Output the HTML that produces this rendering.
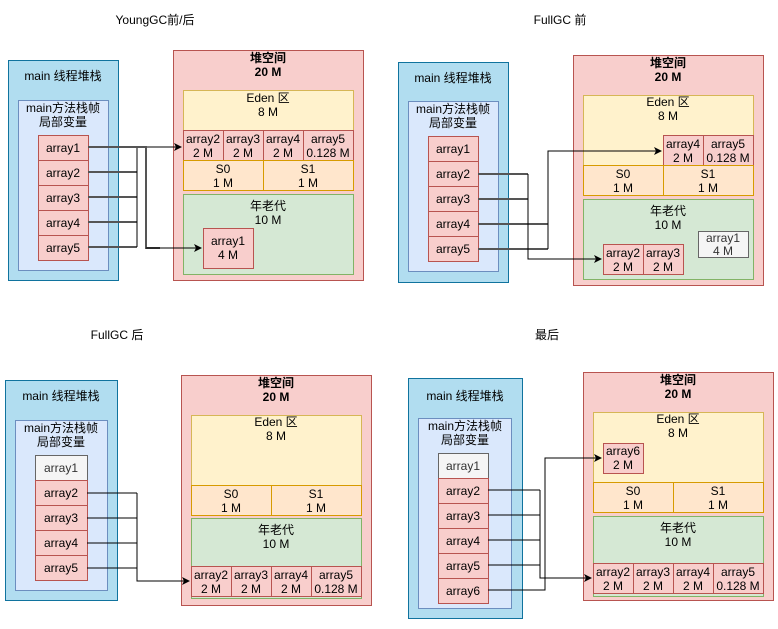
<!DOCTYPE html>
<html><head><meta charset="utf-8"><style>
body{margin:0;background:#fff}
svg text{font-family:"Liberation Sans","Noto Sans CJK SC",sans-serif;font-size:12px;text-anchor:middle;fill:#000}
.so{fill:#b1ddf0;stroke:#10739e}.si{fill:#dae8fc;stroke:#6c8ebf}
.c{fill:#f8cecc;stroke:#b85450}.h{fill:#f8cecc;stroke:#b85450}
.e{fill:#fff2cc;stroke:#d6b656}.s{fill:#ffe6cc;stroke:#d79b00}.o{fill:#d5e8d4;stroke:#82b366}
.g{fill:#f5f5f5;stroke:#666}.gt{fill:#333}
.ln{fill:none;stroke:#555;stroke-width:2}.lb{fill:none;stroke:#000;stroke-width:1}
.b{font-weight:bold}
</style></head><body>
<svg width="778" height="624" xmlns="http://www.w3.org/2000/svg">
<defs><marker id="a" markerWidth="8" markerHeight="8" refX="7" refY="4" orient="auto" markerUnits="userSpaceOnUse"><path d="M0,0 L8,4 L0,8 L2,4z" fill="#000"/></marker></defs>

<text x="155" y="24">YoungGC前/后</text>
<text x="560" y="24">FullGC 前</text>
<text x="117" y="339">FullGC 后</text>
<text x="547" y="339">最后</text>

<!-- Panel 1 -->
<rect class="so" x="8.5" y="60.5" width="110" height="220"/>
<text x="63" y="80">main 线程堆栈</text>
<rect class="si" x="18.5" y="100.5" width="90" height="170"/>
<text x="63" y="112">main方法栈帧</text><text x="63" y="126">局部变量</text>
<rect class="c" x="38.5" y="135.5" width="50" height="25"/><text x="63" y="152">array1</text>
<rect class="c" x="38.5" y="160.5" width="50" height="25"/><text x="63" y="177">array2</text>
<rect class="c" x="38.5" y="185.5" width="50" height="25"/><text x="63" y="202">array3</text>
<rect class="c" x="38.5" y="210.5" width="50" height="25"/><text x="63" y="227">array4</text>
<rect class="c" x="38.5" y="235.5" width="50" height="25"/><text x="63" y="252">array5</text>
<rect class="h" x="173.5" y="50.5" width="190" height="230"/>
<text x="268" y="62" class="b">堆空间</text><text x="268" y="76" class="b">20 M</text>
<rect class="e" x="183.5" y="90.5" width="170" height="70"/>
<text x="268" y="102">Eden 区</text><text x="268" y="116">8 M</text>
<rect class="c" x="183.5" y="130.5" width="40" height="30"/><text x="203" y="143">array2</text><text x="203" y="157">2 M</text>
<rect class="c" x="223.5" y="130.5" width="40" height="30"/><text x="243" y="143">array3</text><text x="243" y="157">2 M</text>
<rect class="c" x="263.5" y="130.5" width="40" height="30"/><text x="283" y="143">array4</text><text x="283" y="157">2 M</text>
<rect class="c" x="303.5" y="130.5" width="50" height="30"/><text x="328" y="143">array5</text><text x="328" y="157">0.128 M</text>
<rect class="s" x="183.5" y="160.5" width="80" height="30"/><text x="223" y="173">S0</text><text x="223" y="187">1 M</text>
<rect class="s" x="263.5" y="160.5" width="90" height="30"/><text x="308" y="173">S1</text><text x="308" y="187">1 M</text>
<rect class="o" x="183.5" y="194.5" width="170" height="80"/>
<text x="268" y="210">年老代</text><text x="268" y="224">10 M</text>
<rect class="c" x="203.5" y="228.5" width="50" height="40"/><text x="228" y="245">array1</text><text x="228" y="259">4 M</text>
<path class="ln" d="M88,172H137M88,197H137M88,222H137M88,247H137"/>
<path class="lb" d="M137,247V147H181" marker-end="url(#a)"/>
<path class="ln" d="M88,147H146V248H160"/>
<path class="lb" d="M146,248H201" marker-end="url(#a)"/>

<!-- Panel 2 -->
<rect class="so" x="398.5" y="62.5" width="110" height="220"/>
<text x="453" y="82">main 线程堆栈</text>
<rect class="si" x="408.5" y="101.5" width="90" height="170"/>
<text x="453" y="113">main方法栈帧</text><text x="453" y="127">局部变量</text>
<rect class="c" x="428.5" y="136.5" width="50" height="25"/><text x="453" y="153">array1</text>
<rect class="c" x="428.5" y="161.5" width="50" height="25"/><text x="453" y="178">array2</text>
<rect class="c" x="428.5" y="186.5" width="50" height="25"/><text x="453" y="203">array3</text>
<rect class="c" x="428.5" y="211.5" width="50" height="25"/><text x="453" y="228">array4</text>
<rect class="c" x="428.5" y="236.5" width="50" height="25"/><text x="453" y="253">array5</text>
<rect class="h" x="573.5" y="55.5" width="190" height="230"/>
<text x="668" y="67" class="b">堆空间</text><text x="668" y="81" class="b">20 M</text>
<rect class="e" x="583.5" y="95.5" width="170" height="70"/>
<text x="668" y="106">Eden 区</text><text x="668" y="120">8 M</text>
<rect class="c" x="663.5" y="135.5" width="40" height="30"/><text x="683" y="148">array4</text><text x="683" y="162">2 M</text>
<rect class="c" x="703.5" y="135.5" width="50" height="30"/><text x="728" y="148">array5</text><text x="728" y="162">0.128 M</text>
<rect class="s" x="583.5" y="165.5" width="80" height="30"/><text x="623" y="178">S0</text><text x="623" y="192">1 M</text>
<rect class="s" x="663.5" y="165.5" width="90" height="30"/><text x="708" y="178">S1</text><text x="708" y="192">1 M</text>
<rect class="o" x="583.5" y="199.5" width="170" height="80"/>
<text x="668" y="215">年老代</text><text x="668" y="229">10 M</text>
<rect class="g" x="698.5" y="231.5" width="50" height="26"/><text x="723" y="242" class="gt">array1</text><text x="723" y="255" class="gt">4 M</text>
<rect class="c" x="603.5" y="244.5" width="40" height="30"/><text x="623" y="257">array2</text><text x="623" y="271">2 M</text>
<rect class="c" x="643.5" y="244.5" width="40" height="30"/><text x="663" y="257">array3</text><text x="663" y="271">2 M</text>
<path class="ln" d="M478,174H528M478,199H528M478,224H548M478,249H548"/>
<path class="lb" d="M528,174V259H601" marker-end="url(#a)"/>
<path class="lb" d="M548,249V151H661" marker-end="url(#a)"/>

<!-- Panel 3 -->
<rect class="so" x="5.5" y="380.5" width="112" height="220"/>
<text x="61" y="400">main 线程堆栈</text>
<rect class="si" x="15.5" y="420.5" width="92" height="170"/>
<text x="61" y="432">main方法栈帧</text><text x="61" y="446">局部变量</text>
<rect class="g" x="35.5" y="455.5" width="52" height="25"/><text x="61" y="472" class="gt">array1</text>
<rect class="c" x="35.5" y="480.5" width="52" height="25"/><text x="61" y="497">array2</text>
<rect class="c" x="35.5" y="505.5" width="52" height="25"/><text x="61" y="522">array3</text>
<rect class="c" x="35.5" y="530.5" width="52" height="25"/><text x="61" y="547">array4</text>
<rect class="c" x="35.5" y="555.5" width="52" height="25"/><text x="61" y="572">array5</text>
<rect class="h" x="181.5" y="375.5" width="190" height="230"/>
<text x="276" y="387" class="b">堆空间</text><text x="276" y="401" class="b">20 M</text>
<rect class="e" x="191.5" y="415.5" width="170" height="70"/>
<text x="276" y="426">Eden 区</text><text x="276" y="440">8 M</text>
<rect class="s" x="191.5" y="485.5" width="80" height="30"/><text x="231" y="498">S0</text><text x="231" y="512">1 M</text>
<rect class="s" x="271.5" y="485.5" width="90" height="30"/><text x="316" y="498">S1</text><text x="316" y="512">1 M</text>
<rect class="o" x="191.5" y="518.5" width="170" height="80"/>
<text x="276" y="534">年老代</text><text x="276" y="548">10 M</text>
<rect class="c" x="191.5" y="566.5" width="40" height="30"/><text x="211" y="579">array2</text><text x="211" y="593">2 M</text>
<rect class="c" x="231.5" y="566.5" width="40" height="30"/><text x="251" y="579">array3</text><text x="251" y="593">2 M</text>
<rect class="c" x="271.5" y="566.5" width="40" height="30"/><text x="291" y="579">array4</text><text x="291" y="593">2 M</text>
<rect class="c" x="311.5" y="566.5" width="50" height="30"/><text x="336" y="579">array5</text><text x="336" y="593">0.128 M</text>
<path class="lb" d="M87,493H137M87,518H137M87,543H137M87,568H137"/>
<path class="lb" d="M137,493V581H189" marker-end="url(#a)"/>

<!-- Panel 4 -->
<rect class="so" x="408.5" y="378.5" width="114" height="240"/>
<text x="465" y="400">main 线程堆栈</text>
<rect class="si" x="418.5" y="418.5" width="93" height="190"/>
<text x="465" y="430">main方法栈帧</text><text x="465" y="444">局部变量</text>
<rect class="g" x="438.5" y="453.5" width="50" height="25"/><text x="463" y="470" class="gt">array1</text>
<rect class="c" x="438.5" y="478.5" width="50" height="25"/><text x="463" y="495">array2</text>
<rect class="c" x="438.5" y="503.5" width="50" height="25"/><text x="463" y="520">array3</text>
<rect class="c" x="438.5" y="528.5" width="50" height="25"/><text x="463" y="545">array4</text>
<rect class="c" x="438.5" y="553.5" width="50" height="25"/><text x="463" y="570">array5</text>
<rect class="c" x="438.5" y="578.5" width="50" height="25"/><text x="463" y="595">array6</text>
<rect class="h" x="583.5" y="372.5" width="190" height="228"/>
<text x="678" y="384" class="b">堆空间</text><text x="678" y="398" class="b">20 M</text>
<rect class="e" x="593.5" y="412.5" width="170" height="70"/>
<text x="678" y="423">Eden 区</text><text x="678" y="437">8 M</text>
<rect class="c" x="603.5" y="443.5" width="40" height="30"/><text x="623" y="455">array6</text><text x="623" y="469">2 M</text>
<rect class="s" x="593.5" y="482.5" width="80" height="30"/><text x="633" y="495">S0</text><text x="633" y="509">1 M</text>
<rect class="s" x="673.5" y="482.5" width="90" height="30"/><text x="718" y="495">S1</text><text x="718" y="509">1 M</text>
<rect class="o" x="593.5" y="516.5" width="170" height="80"/>
<text x="678" y="532">年老代</text><text x="678" y="546">10 M</text>
<rect class="c" x="593.5" y="563.5" width="40" height="30"/><text x="613" y="576">array2</text><text x="613" y="590">2 M</text>
<rect class="c" x="633.5" y="563.5" width="40" height="30"/><text x="653" y="576">array3</text><text x="653" y="590">2 M</text>
<rect class="c" x="673.5" y="563.5" width="40" height="30"/><text x="693" y="576">array4</text><text x="693" y="590">2 M</text>
<rect class="c" x="713.5" y="563.5" width="50" height="30"/><text x="738" y="576">array5</text><text x="738" y="590">0.128 M</text>
<path class="lb" d="M488,490H540M488,515H540M488,540H540M488,565H540"/>
<path class="lb" d="M540,490V578H591" marker-end="url(#a)"/>
<path class="lb" d="M488,590H545V458H601" marker-end="url(#a)"/>
</svg>
</body></html>
